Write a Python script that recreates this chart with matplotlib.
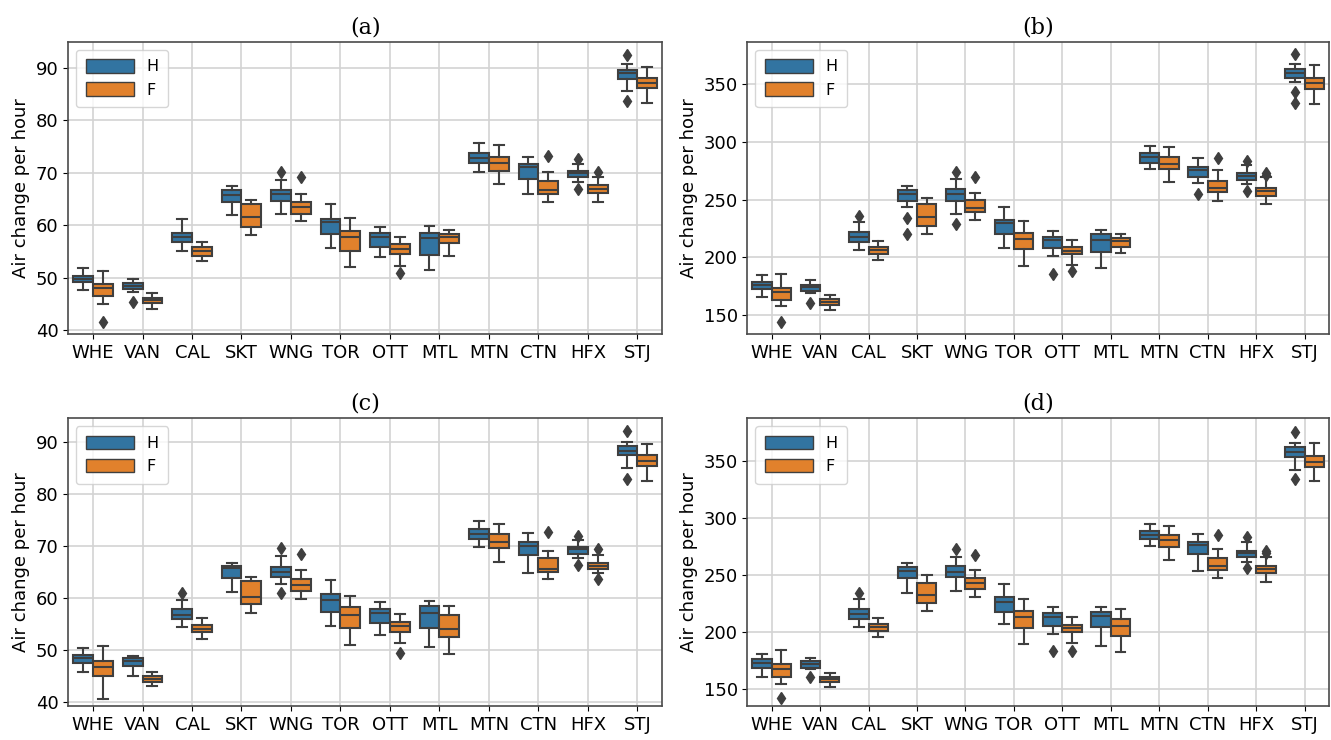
import numpy as np
import matplotlib
matplotlib.use("Agg")
import matplotlib.pyplot as plt
from matplotlib.patches import Patch

stations = ["WHE", "VAN", "CAL", "SKT", "WNG", "TOR", "OTT", "MTL", "MTN", "CTN", "HFX", "STJ"]

# each row: (low whisker, q1, median, q3, high whisker)
a_H = [(47.6, 49.1, 49.8, 50.4, 51.9), (47.3, 47.8, 48.4, 48.9, 49.7), (55.1, 56.8, 57.8, 58.6, 61.2),
       (61.9, 64.5, 65.8, 66.8, 67.4), (62.1, 64.7, 66.0, 66.8, 68.7), (55.6, 58.4, 60.6, 61.2, 64.1),
       (53.9, 55.9, 57.8, 58.6, 59.6), (51.4, 54.4, 57.5, 58.5, 59.8), (70.2, 71.9, 72.8, 73.8, 75.6),
       (65.9, 68.9, 71.1, 71.6, 73.1), (68.2, 69.2, 70.0, 70.4, 71.6), (85.6, 87.9, 89.0, 89.7, 90.7)]
a_F = [(45.0, 46.5, 48.1, 48.8, 51.2), (44.1, 45.1, 45.7, 46.2, 47.0), (53.2, 54.2, 55.1, 55.8, 56.9),
       (58.2, 59.7, 61.5, 64.0, 64.9), (60.9, 62.2, 63.4, 64.5, 66.0), (52.1, 55.1, 57.7, 58.9, 61.4),
       (52.3, 54.5, 55.4, 56.5, 57.7), (54.2, 56.6, 57.8, 58.4, 59.1), (67.9, 70.4, 71.9, 73.0, 75.3),
       (64.4, 65.9, 66.7, 68.5, 70.2), (64.5, 66.2, 66.9, 67.6, 69.2), (83.4, 86.1, 87.1, 88.1, 90.1)]
a_H_out = [[], [45.3], [], [], [70.2], [], [], [], [], [], [72.7, 67.0], [92.5, 83.7]]
a_F_out = [[41.6], [], [], [], [69.2], [], [50.9], [], [], [73.2], [70.1], []]

b_H = [(165.9, 172.8, 175.7, 178.9, 184.7), (169.4, 170.5, 174.0, 176.3, 180.3), (206.1, 213.0, 217.9, 222.0, 230.3),
       (243.9, 248.8, 254.9, 258.4, 261.8), (237.6, 249.1, 254.6, 259.2, 267.6), (208.4, 220.2, 230.1, 232.4, 243.4),
       (201.2, 207.8, 215.0, 217.6, 222.8), (191.0, 204.9, 215.0, 220.2, 223.4), (276.3, 282.1, 286.7, 290.2, 296.5),
       (264.2, 269.9, 276.0, 278.6, 286.1), (263.6, 267.3, 270.8, 272.8, 279.8), (351.7, 355.2, 359.5, 363.0, 367.6)]
b_F = [(157.8, 163.0, 170.2, 173.7, 185.3), (154.3, 158.7, 161.3, 163.6, 167.3), (197.4, 202.9, 206.4, 209.2, 214.2),
       (220.2, 227.5, 235.3, 246.2, 251.7), (232.7, 239.0, 242.5, 249.4, 255.5), (192.5, 207.2, 215.6, 220.8, 231.8),
       (193.4, 202.6, 205.8, 208.7, 215.3), (203.5, 209.0, 214.2, 216.8, 220.5), (265.6, 276.3, 280.9, 287.0, 295.7),
       (248.8, 256.4, 259.8, 266.5, 275.4), (246.2, 253.5, 257.2, 260.1, 269.4), (333.0, 345.7, 350.9, 355.2, 366.8)]
b_H_out = [[], [160.7], [236.1], [234.4, 220.2], [274.3, 228.9], [], [185.5], [], [], [254.9],
           [283.8, 257.8], [376.0, 343.4, 334.1]]
b_F_out = [[144.2], [], [], [], [269.7], [], [188.2], [], [], [286.4], [271.5, 273.5], []]

c_H = [(45.7, 47.4, 48.5, 49.1, 50.3), (44.9, 46.9, 47.8, 48.4, 48.8), (54.4, 55.9, 56.8, 57.8, 59.6),
       (61.1, 63.8, 65.7, 66.2, 66.7), (62.7, 64.1, 65.1, 66.0, 68.0), (54.7, 57.3, 59.6, 60.8, 63.4),
       (52.9, 55.2, 57.2, 57.9, 59.2), (50.6, 54.3, 57.2, 58.4, 59.4), (69.8, 71.3, 72.3, 73.2, 74.9),
       (64.9, 68.2, 70.1, 70.7, 72.5), (67.7, 68.5, 69.4, 69.9, 71.2), (85.0, 87.5, 88.4, 89.2, 90.1)]
c_F = [(40.6, 44.9, 46.7, 47.8, 50.7), (43.0, 43.9, 44.4, 45.0, 45.8), (52.1, 53.4, 54.1, 54.8, 56.1),
       (57.2, 58.8, 60.2, 63.3, 64.0), (59.8, 61.4, 62.6, 63.7, 65.3), (50.9, 54.2, 56.8, 58.3, 60.4),
       (51.4, 53.5, 54.7, 55.4, 57.0), (49.3, 52.4, 54.1, 56.7, 58.5), (67.0, 69.6, 70.8, 72.3, 74.3),
       (63.6, 65.0, 65.6, 67.7, 69.0), (64.9, 65.5, 66.2, 66.7, 68.3), (82.6, 85.4, 86.4, 87.6, 89.7)]
c_H_out = [[], [], [61.0], [], [69.7, 61.0], [], [], [], [], [], [71.9, 66.3], [92.1, 82.9]]
c_F_out = [[], [], [], [], [68.5], [], [49.5], [], [], [72.7], [69.5, 63.6], []]

d_H = [(161.1, 168.4, 173.0, 176.2, 180.9), (168.1, 169.0, 172.4, 175.1, 177.7), (204.5, 211.5, 215.6, 220.0, 228.7),
       (234.5, 247.4, 253.8, 257.0, 260.2), (235.7, 248.5, 252.9, 257.9, 265.5), (206.9, 217.9, 226.7, 230.5, 242.1),
       (198.4, 205.7, 213.6, 216.5, 221.7), (188.2, 204.8, 214.1, 217.9, 222.3), (275.7, 281.2, 285.0, 288.8, 294.9),
       (253.5, 268.7, 276.0, 278.6, 285.9), (261.1, 265.5, 269.0, 271.3, 279.2), (341.8, 353.5, 357.9, 361.7, 365.7)]
d_F = [(154.7, 160.5, 167.5, 172.2, 184.4), (151.7, 156.7, 159.0, 161.1, 164.6), (196.1, 201.3, 204.8, 207.4, 212.7),
       (218.2, 225.8, 232.5, 243.3, 250.0), (230.5, 237.8, 242.7, 247.1, 254.1), (189.7, 203.9, 213.6, 218.5, 229.0),
       (190.2, 199.9, 203.4, 206.6, 213.0), (182.4, 196.6, 205.4, 211.2, 220.0), (263.1, 274.2, 280.3, 285.0, 293.1),
       (247.1, 254.4, 258.2, 264.9, 272.7), (244.2, 252.0, 255.2, 257.9, 266.0), (331.9, 344.2, 349.1, 354.1, 365.7)]
d_H_out = [[], [160.5], [234.5], [], [272.7], [], [183.8], [], [], [], [282.9, 255.8], [375.4, 333.7]]
d_F_out = [[142.1], [], [], [], [267.8], [], [183.8], [], [], [285.0], [269.5, 271.0], []]

titles = ["(a)", "(b)", "(c)", "(d)"]
yticks_small = [40, 50, 60, 70, 80, 90]
yticks_big = [150, 200, 250, 300, 350]

H_COLOR = "#3274a1"
F_COLOR = "#e1812c"
GRAY = "#3f3f3f"


def make_stats(rows, outs):
    stats = []
    for r, o in zip(rows, outs):
        stats.append(dict(whislo=r[0], q1=r[1], med=r[2], q3=r[3], whishi=r[4], fliers=o))
    return stats


def draw_panel(ax, H, F, H_out, F_out, title, yticks, ylim):
    pos = np.arange(len(stations))
    for rows, outs, off, col in [(H, H_out, -0.2, H_COLOR), (F, F_out, 0.2, F_COLOR)]:
        ax.bxp(make_stats(rows, outs), positions=pos + off, widths=0.4, patch_artist=True,
               showfliers=True, manage_ticks=False,
               boxprops=dict(facecolor=col, edgecolor=GRAY, linewidth=1.5),
               medianprops=dict(color=GRAY, linewidth=1.5),
               whiskerprops=dict(color=GRAY, linewidth=1.5),
               capprops=dict(color=GRAY, linewidth=1.5),
               flierprops=dict(marker="d", markerfacecolor=GRAY, markeredgecolor=GRAY, markersize=6.5))
    ax.set_xticks(pos)
    ax.set_xticklabels(stations, fontsize=13)
    ax.set_xlim(-0.5, len(stations) - 0.5)
    ax.set_yticks(yticks)
    ax.tick_params(axis="y", labelsize=13)
    ax.set_ylim(*ylim)
    ax.grid(True, color="#d3d3d3", linewidth=1.2)
    ax.set_axisbelow(True)
    for s in ax.spines.values():
        s.set_color("#4a4a4a")
        s.set_linewidth(1.2)
    ax.set_ylabel("Air change per hour", fontsize=13)
    ax.set_title(title, fontsize=16, family="DejaVu Serif")
    handles = [Patch(facecolor=H_COLOR, edgecolor=GRAY, label="H"),
               Patch(facecolor=F_COLOR, edgecolor=GRAY, label="F")]
    ax.legend(handles=handles, loc="upper left", fontsize=11.5, handlelength=3.0, handleheight=0.9,
              borderpad=0.6)


fig = plt.figure(figsize=(13.31, 7.40), dpi=100)
ax_a = fig.add_axes([0.0513, 0.5482, 0.4461, 0.3954])
ax_b = fig.add_axes([0.5615, 0.5482, 0.4370, 0.3954])
ax_c = fig.add_axes([0.0513, 0.0459, 0.4461, 0.3888])
ax_d = fig.add_axes([0.5615, 0.0459, 0.4370, 0.3888])

draw_panel(ax_a, a_H, a_F, a_H_out, a_F_out, titles[0], yticks_small, (39.2, 95.0))
draw_panel(ax_b, b_H, b_F, b_H_out, b_F_out, titles[1], yticks_big, (133.3, 386.9))
draw_panel(ax_c, c_H, c_F, c_H_out, c_F_out, titles[2], yticks_small, (39.2, 94.6))
draw_panel(ax_d, d_H, d_F, d_H_out, d_F_out, titles[3], yticks_big, (135.4, 387.1))

fig.savefig("out.png", dpi=100)
